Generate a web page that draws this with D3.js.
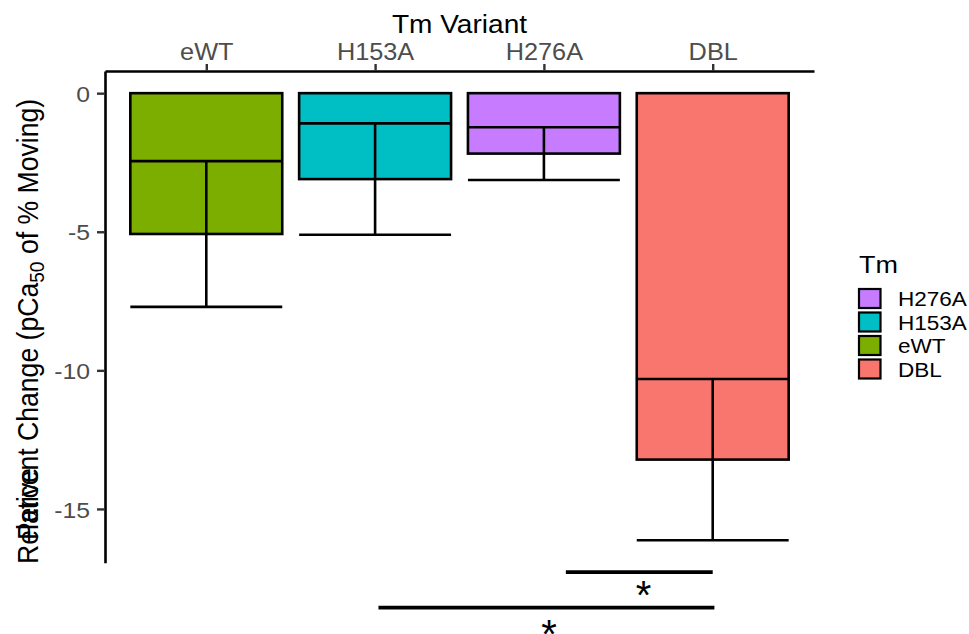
<!DOCTYPE html>
<html>
<head>
<meta charset="utf-8">
<script src="https://cdn.jsdelivr.net/npm/d3@7"></script>
<style>
  html, body { margin: 0; padding: 0; background: #fff; }
  svg { display: block; font-family: "Liberation Sans", Arial, sans-serif; }
</style>
</head>
<body>
<svg id="chart" width="969" height="634"></svg>
<script>
// ---- data ----
const categories = ["eWT", "H153A", "H276A", "DBL"];
const means      = [-5.08, -3.10, -2.18, -13.22];
const errors     = [2.63, 2.01, 0.95, 2.91];
const colors     = ["#7CAE00", "#00BFC4", "#C77CFF", "#F8766D"];
const yTicks     = [0, -5, -10, -15];
const legendOrder = ["H276A", "H153A", "eWT", "DBL"];
// significance brackets (positions in category-index units, y in data units)
const sigFrom   = [2.13, 1.02];
const sigTo     = [3.00, 3.01];
const sigY      = [-17.28, -18.56];
const sigStarX  = [2.59, 2.03];
const sigStarY  = [-17.78, -19.20];
const sigLabels = ["*", "*"];

// ---- layout ----
const svg = d3.select("#chart");
const SX = 1.1; // horizontal text stretch of the original image
const panel = { left: 105, right: 814, top: 71, bottom: 562.7 };

const x = d3.scalePoint().domain(categories).range([panel.left, panel.right]).padding(0.6);
const xl = d3.scaleLinear().domain([0, categories.length - 1])
  .range([x(categories[0]), x(categories[categories.length - 1])]);
const y = d3.scaleLinear().domain([-16.94, 0.80]).range([panel.bottom, panel.top]);
const color = d3.scaleOrdinal().domain(categories).range(colors);
const bw = x.step() * 0.9;

function stext(parent, tx, ty, s, size, anchor, fill) {
  return parent.append("text")
    .attr("transform", `translate(${tx},${ty}) scale(${SX},1)`)
    .attr("font-size", size)
    .attr("text-anchor", anchor)
    .attr("fill", fill || "#000")
    .text(s);
}

const data = categories.map((c, i) => ({ c, m: means[i], e: errors[i] }));

// bars
svg.append("g").selectAll("rect").data(data).join("rect")
  .attr("x", d => x(d.c) - bw / 2)
  .attr("width", bw)
  .attr("y", d => y(0))
  .attr("height", d => y(d.m) - y(0))
  .attr("fill", d => color(d.c))
  .attr("stroke", "#000")
  .attr("stroke-width", 2.6);

// error bars
const eg = svg.append("g").attr("stroke", "#000").attr("stroke-width", 2.6);
data.forEach(d => {
  const cx = x(d.c);
  eg.append("line").attr("x1", cx).attr("x2", cx).attr("y1", y(d.m + d.e)).attr("y2", y(d.m - d.e));
  eg.append("line").attr("x1", cx - bw / 2).attr("x2", cx + bw / 2).attr("y1", y(d.m + d.e)).attr("y2", y(d.m + d.e));
  eg.append("line").attr("x1", cx - bw / 2).attr("x2", cx + bw / 2).attr("y1", y(d.m - d.e)).attr("y2", y(d.m - d.e));
});

// y axis
const ya = svg.append("g").attr("transform", `translate(${panel.left},0)`)
  .call(d3.axisLeft(y).tickValues(yTicks).tickSize(8).tickSizeOuter(0).tickFormat(d3.format("d")));
ya.select(".domain").attr("stroke", "#000").attr("stroke-width", 2.6);
ya.selectAll(".tick line").attr("stroke", "#333").attr("stroke-width", 2.4);
ya.selectAll(".tick text")
  .attr("x", -15 / SX).attr("dy", "0.36em")
  .attr("transform", `scale(${SX},1)`)
  .attr("font-size", 22.5).attr("fill", "#4D4D4D")
  .attr("font-family", "Liberation Sans, Arial, sans-serif")
  .text(d => d === 0 ? "0" : "-" + Math.abs(d));

// x axis (top)
const xa = svg.append("g").attr("transform", `translate(0,${panel.top})`)
  .call(d3.axisTop(x).tickSize(7).tickSizeOuter(0));
xa.select(".domain").attr("stroke", "#000").attr("stroke-width", 2.6);
xa.selectAll(".tick line").attr("stroke", "#333").attr("stroke-width", 2.4);
xa.selectAll(".tick text")
  .attr("y", -11).attr("dy", "0")
  .attr("transform", `scale(${SX},1)`)
  .attr("font-size", 23).attr("fill", "#4D4D4D")
  .attr("font-family", "Liberation Sans, Arial, sans-serif");

// x axis title
stext(svg, (panel.left + panel.right) / 2, 33, "Tm Variant", 25.5, "middle");

// y axis title (two overlapping labels as in the original)
const yl = svg.append("text")
  .attr("transform", `translate(38,540) rotate(-90) scale(1,${SX})`)
  .attr("font-size", 26.6).attr("text-anchor", "start").attr("fill", "#000");
yl.append("tspan").text("Percent Change (pCa");
yl.append("tspan").attr("font-size", 26.6 * 0.72).attr("dy", 5).text("50");
yl.append("tspan").attr("dy", -5).text(" of % Moving)");
svg.append("text")
  .attr("transform", `translate(38,564) rotate(-90) scale(1,${SX})`)
  .attr("font-size", 26.6).attr("text-anchor", "start").attr("fill", "#000")
  .text("Relative");

// significance brackets
const sg = svg.append("g");
sigFrom.forEach((f, i) => {
  sg.append("line")
    .attr("x1", xl(f)).attr("x2", xl(sigTo[i]))
    .attr("y1", y(sigY[i])).attr("y2", y(sigY[i]))
    .attr("stroke", "#000").attr("stroke-width", 3.6);
  sg.append("text")
    .attr("x", xl(sigStarX[i])).attr("y", y(sigStarY[i]))
    .attr("dy", "0.573em")
    .attr("font-size", 40).attr("text-anchor", "middle").attr("fill", "#000")
    .text(sigLabels[i]);
});

// legend
const lg = svg.append("g");
stext(lg, 859, 273, "Tm", 24.5, "start");
const keyTop = 289, pitch = 23.5, kw = 21.5, kh = 19;
legendOrder.forEach((c, i) => {
  const ky = keyTop + i * pitch;
  lg.append("rect").attr("x", 859).attr("y", ky).attr("width", kw).attr("height", kh)
    .attr("fill", color(c)).attr("stroke", "#000").attr("stroke-width", 2.2);
  stext(lg, 898, ky + kh / 2 + 7.5, c, 20.5, "start");
});
</script>
</body>
</html>
